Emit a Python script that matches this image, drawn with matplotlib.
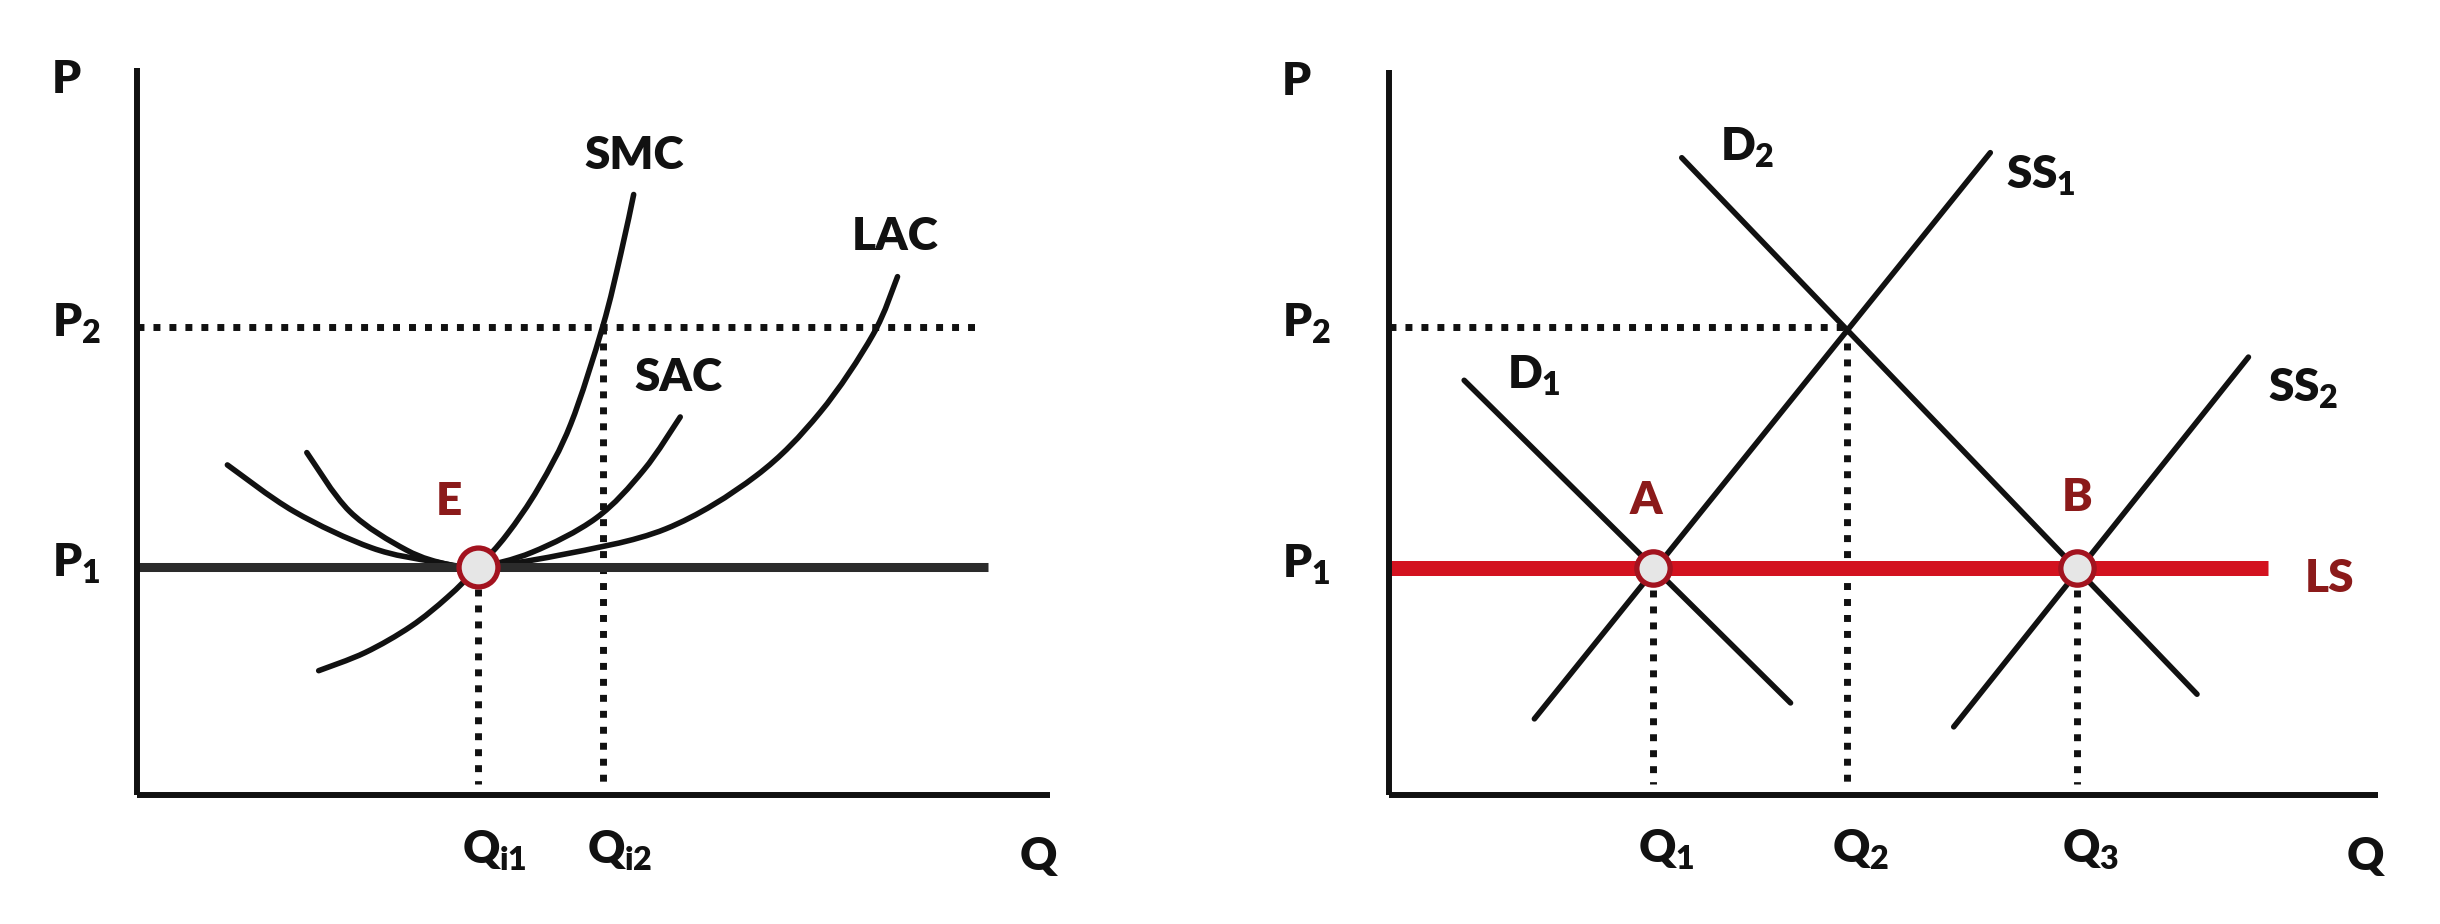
import matplotlib
matplotlib.use('Agg')
import matplotlib.pyplot as plt
from matplotlib.path import Path
from matplotlib.patches import PathPatch
import numpy as np

plt.rcParams['font.family'] = ['Lato', 'DejaVu Sans']
plt.rcParams['font.weight'] = 'heavy'
plt.rcParams['mathtext.fontset'] = 'custom'
plt.rcParams['mathtext.rm'] = 'Lato:heavy'
plt.rcParams['mathtext.it'] = 'Lato:heavy'
plt.rcParams['mathtext.bf'] = 'Lato:heavy'

# ---------------- data: left panel (firm) ----------------
P1_left = 31.4
P2_left = 64.4
Qi1 = 37.3
Qi2 = 51.0
p_lines_end_left = [93.2, 92.4]  # extent of P1 and P2 lines

smc_q = [19.9, 25.0, 30.0, 34.0, 37.4, 40.5, 44.0, 47.5, 51.0, 53.0, 54.4]
smc_p = [17.1, 19.6, 23.2, 27.2, 31.4, 35.8, 42.3, 51.0, 64.4, 74.5, 82.6]

sac_q = [18.6, 23.3, 29.5, 34.1, 37.4, 43.3, 50.3, 55.5, 59.5]
sac_p = [47.1, 39.0, 33.7, 31.7, 31.4, 33.4, 38.1, 44.7, 52.0]

lac_q = [9.9, 17.2, 25.7, 32.5, 37.4, 46.3, 57.9, 67.8, 74.8, 80.6, 83.3]
lac_p = [45.4, 39.0, 34.0, 32.1, 31.4, 33.0, 36.6, 43.9, 52.6, 63.3, 71.3]

# ---------------- data: right panel (industry) ----------------
P1_right = 31.3
P2_right = 64.6
Q1 = 26.7
Q2 = 46.3
Q3 = 69.6
ls_end = 88.9

d1_q, d1_p = [7.6, 40.6], [57.2, 12.7]
d2_q, d2_p = [29.6, 81.7], [87.9, 13.9]
ss1_q, ss1_p = [14.7, 60.8], [10.5, 88.6]
ss2_q, ss2_p = [57.1, 86.9], [9.4, 60.4]

BLACK = '#111111'
DARKRED = '#8b1a1a'
RED = '#d3121f'
CIRCLE_EDGE = '#a3131f'
CIRCLE_FILL = '#e6e6e6'
FS = 33
LW = 4.0


def smooth_curve(ax, xs, ys, **kw):
    """Draw a smooth Bezier path passing through the read points."""
    pts = np.column_stack([xs, ys]).astype(float)
    n = len(pts)
    verts = [pts[0]]
    codes = [Path.MOVETO]
    for i in range(n - 1):
        p0 = pts[i - 1] if i > 0 else pts[i]
        p1 = pts[i]
        p2 = pts[i + 1]
        p3 = pts[i + 2] if i + 2 < n else pts[i + 1]
        c1 = p1 + (p2 - p0) / 6.0
        c2 = p2 - (p3 - p1) / 6.0
        verts += [c1, c2, p2]
        codes += [Path.CURVE4] * 3
    patch = PathPatch(Path(verts, codes), fill=False, edgecolor=BLACK, lw=LW,
                      capstyle='round', joinstyle='round', clip_on=False, **kw)
    ax.add_patch(patch)


fig = plt.figure(figsize=(24.4, 9.24), dpi=100)
fig.patch.set_facecolor('white')

axL = fig.add_axes([137 / 2440, 129 / 924, 913 / 2440, 727 / 924])
axR = fig.add_axes([1389 / 2440, 129 / 924, 989 / 2440, 725 / 924])

for ax in (axL, axR):
    ax.set_xlim(0, 100)
    ax.set_ylim(0, 100)
    ax.set_xticks([])
    ax.set_yticks([])
    for s in ('top', 'right'):
        ax.spines[s].set_visible(False)
    for s in ('left', 'bottom'):
        ax.spines[s].set_linewidth(4.3)
        ax.spines[s].set_color(BLACK)
        ax.spines[s].set_capstyle('butt')
    ax.patch.set_alpha(0)

dot = dict(color=BLACK, lw=5, linestyle=(0, (1, 1.3)), dash_capstyle='butt', clip_on=False)

# ---------------- left panel ----------------
axL.plot([0, p_lines_end_left[1]], [P2_left, P2_left], **dot)
axL.plot([Qi2, Qi2], [P2_left, 1.5], **dot)
axL.plot([Qi1, Qi1], [P1_left - 3, 1.5], **dot)
axL.plot([0, p_lines_end_left[0]], [P1_left, P1_left], color='#2b2b2b', lw=6.5,
         solid_capstyle='butt', clip_on=False)
smooth_curve(axL, lac_q, lac_p)
smooth_curve(axL, sac_q, sac_p)
smooth_curve(axL, smc_q, smc_p)
axL.plot([Qi1], [P1_left], marker='o', ms=28, mfc=CIRCLE_FILL, mec=CIRCLE_EDGE, mew=3.8,
         clip_on=False, zorder=5)

axL.text(54.5, 87.9, 'SMC', fontsize=FS, ha='center', va='center', color=BLACK)
axL.text(83.0, 76.8, 'LAC', fontsize=FS, ha='center', va='center', color=BLACK)
axL.text(59.3, 57.4, 'SAC', fontsize=FS, ha='center', va='center', color=BLACK)
axL.text(34.2, 40.4, 'E', fontsize=FS, ha='center', va='center', color=DARKRED)

axL.text(-9.3, 96.6, 'P', fontsize=FS, ha='left', va='baseline', color=BLACK)
axL.text(-9.3, P2_left - 1.4, r'$P_2$', fontsize=FS, ha='left', va='baseline', color=BLACK)
axL.text(-9.3, P1_left - 1.4, r'$P_1$', fontsize=FS, ha='left', va='baseline', color=BLACK)
axL.annotate(r'$Q_{i1}$', xy=(Qi1, -9.5), xytext=(-11, 0), textcoords='offset points',
             fontsize=FS, ha='left', va='baseline', color=BLACK, annotation_clip=False)
axL.annotate(r'$Q_{i2}$', xy=(Qi2, -9.5), xytext=(-11, 0), textcoords='offset points',
             fontsize=FS, ha='left', va='baseline', color=BLACK, annotation_clip=False)
axL.text(98.7, -10.3, 'Q', fontsize=FS, ha='center', va='baseline', color=BLACK)

# ---------------- right panel ----------------
axR.plot([0, Q2], [P2_right, P2_right], **dot)
axR.plot([Q2, Q2], [P2_right, 1.5], **dot)
axR.plot([Q1, Q1], [P1_right - 3, 1.5], **dot)
axR.plot([Q3, Q3], [P1_right - 3, 1.5], **dot)
axR.plot([0, ls_end], [P1_right, P1_right], color=RED, lw=10.8, solid_capstyle='butt',
         clip_on=False, zorder=2)
for q, p in ((d1_q, d1_p), (d2_q, d2_p), (ss1_q, ss1_p), (ss2_q, ss2_p)):
    axR.plot(q, p, color=BLACK, lw=LW, solid_capstyle='round', clip_on=False, zorder=3)
axR.plot([Q1, Q3], [P1_right, P1_right], 'o', ms=24, mfc=CIRCLE_FILL, mec=CIRCLE_EDGE,
         mew=3.8, clip_on=False, zorder=5)

axR.text(33.5, 89.3, r'$D_2$', fontsize=FS, ha='left', va='center', color=BLACK)
axR.text(62.4, 85.4, r'$SS_1$', fontsize=FS, ha='left', va='center', color=BLACK)
axR.text(11.9, 57.8, r'$D_1$', fontsize=FS, ha='left', va='center', color=BLACK)
axR.text(88.9, 56.0, r'$SS_2$', fontsize=FS, ha='left', va='center', color=BLACK)
axR.text(Q1 - 0.7, 40.6, 'A', fontsize=FS, ha='center', va='center', color=DARKRED)
axR.text(Q3, 41.0, 'B', fontsize=FS, ha='center', va='center', color=DARKRED)
axR.text(92.6, 29.9, 'LS', fontsize=FS, ha='left', va='center', color=DARKRED)

axR.text(-10.8, 96.6, 'P', fontsize=FS, ha='left', va='baseline', color=BLACK)
axR.text(-10.8, P2_right - 1.4, r'$P_2$', fontsize=FS, ha='left', va='baseline', color=BLACK)
axR.text(-10.8, P1_right - 1.4, r'$P_1$', fontsize=FS, ha='left', va='baseline', color=BLACK)
for q, lab in ((Q1, r'$Q_1$'), (Q2, r'$Q_2$'), (Q3, r'$Q_3$')):
    axR.annotate(lab, xy=(q, -9.3), xytext=(-11, 0), textcoords='offset points',
                 fontsize=FS, ha='left', va='baseline', color=BLACK, annotation_clip=False)
axR.text(98.7, -10.3, 'Q', fontsize=FS, ha='center', va='baseline', color=BLACK)

fig.savefig('out.png', dpi=100, facecolor='white')
